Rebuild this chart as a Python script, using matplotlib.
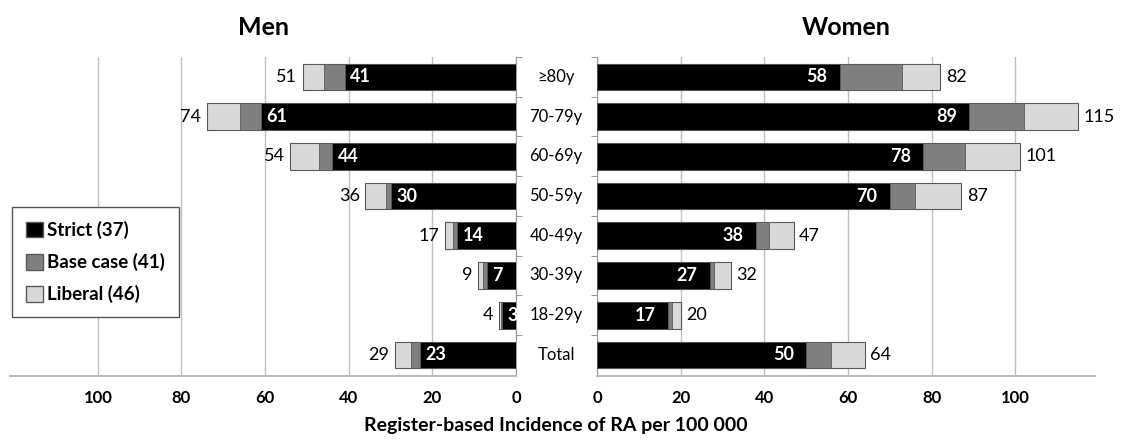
import numpy as np
import matplotlib.pyplot as plt
import matplotlib.transforms as mtransforms
from matplotlib.patches import Patch

plt.rcParams['font.family'] = ['Lato', 'DejaVu Sans']

groups = ['≥80y', '70-79y', '60-69y', '50-59y', '40-49y', '30-39y', '18-29y', 'Total']

# Men: strict / base case / liberal (cumulative values)
men_strict = [41, 61, 44, 30, 14, 7, 3.4, 23]
men_base = [46, 66, 47, 31, 15, 8, 3.7, 25]
men_liberal = [51, 74, 54, 36, 17, 9, 4.1, 29]

# Women
women_strict = [58, 89, 78, 70, 38, 27, 17, 50]
women_base = [73, 102, 88, 76, 41, 28, 18, 56]
women_liberal = [82, 115, 101, 87, 47, 32, 20, 64]

legend_labels = ['Strict (37)', 'Base case (41)', 'Liberal (46)']
xticks = [0, 20, 40, 60, 80, 100]

c_strict = '#000000'
c_base = '#7f7f7f'
c_lib = '#d9d9d9'
edge = '#5a5a5a'
grid_c = '#c0c0c0'

fig = plt.figure(figsize=(11.22, 4.46), dpi=100)
ax_m = fig.add_axes([10/1122, 70/446, 506/1122, 319/446])
ax_w = fig.add_axes([597/1122, 70/446, 498/1122, 319/446])

y = np.arange(len(groups))
h = 0.67
fs = 13


def draw(ax, strict, base, lib, mirror):
    strict = np.array(strict, float)
    base = np.array(base, float)
    lib = np.array(lib, float)
    ax.barh(y, lib, height=h, color=c_lib, edgecolor=edge, linewidth=0.8, zorder=3)
    ax.barh(y, base, height=h, color=c_base, edgecolor=edge, linewidth=0.6, zorder=3)
    ax.barh(y, strict, height=h, color=c_strict, edgecolor=edge, linewidth=0.6, zorder=3)
    for i in range(len(y)):
        s_lab = str(int(round(strict[i])))
        l_lab = str(int(round(lib[i])))
        if mirror:
            ax.annotate(s_lab, (strict[i], y[i]), xytext=(4, 0), textcoords='offset points',
                        ha='left', va='center', color='white', fontsize=fs, fontweight='bold', zorder=4)
            ax.annotate(l_lab, (lib[i], y[i]), xytext=(-4, 0), textcoords='offset points',
                        ha='right', va='center', color='black', fontsize=fs, zorder=4)
        else:
            ax.annotate(s_lab, (strict[i], y[i]), xytext=(-9, 0), textcoords='offset points',
                        ha='right', va='center', color='white', fontsize=fs, fontweight='bold', zorder=4)
            ax.annotate(l_lab, (lib[i], y[i]), xytext=(4, 0), textcoords='offset points',
                        ha='left', va='center', color='black', fontsize=fs, zorder=4)
    ax.set_ylim(len(groups) - 0.47, -0.5)
    ax.set_xticks(xticks)
    ax.set_xticklabels([str(t) for t in xticks], fontsize=12, fontweight='bold')
    ax.grid(axis='x', color=grid_c, linewidth=1, zorder=0)
    ax.set_yticks([])
    ax.set_yticks(np.arange(len(groups)) - 0.5, minor=True)
    ax.tick_params(axis='y', which='minor', length=4, color='#888888')
    ax.tick_params(axis='x', length=0, pad=10)
    for s in ['top', 'left', 'right']:
        ax.spines[s].set_visible(False)
    ax.spines['bottom'].set_color('#bbbbbb')
    ax.spines['bottom'].set_linewidth(1.5)


draw(ax_m, men_strict, men_base, men_liberal, True)
draw(ax_w, women_strict, women_base, women_liberal, False)

ax_m.set_xlim(121, 0)
ax_w.set_xlim(0, 119)
ax_m.spines['right'].set_visible(True)
ax_m.spines['right'].set_color('#999999')
ax_m.yaxis.tick_right()
ax_w.spines['left'].set_visible(True)
ax_w.spines['left'].set_color('#999999')

ax_m.set_title('Men', fontsize=18, fontweight='bold', pad=16)
ax_w.set_title('Women', fontsize=18, fontweight='bold', pad=16)

# category labels between the panels
trans = mtransforms.blended_transform_factory(fig.transFigure, ax_w.transData)
for i, g in enumerate(groups):
    fig.text(556/1122, i, g, transform=trans, ha='center', va='center', fontsize=12)

fig.text(556/1122, 20/446, 'Register-based Incidence of RA per 100 000',
         ha='center', va='center', fontsize=14, fontweight='bold')

handles = [Patch(facecolor=c_strict, edgecolor=edge),
           Patch(facecolor=c_base, edgecolor=edge),
           Patch(facecolor=c_lib, edgecolor=edge)]
leg = ax_m.legend(handles, legend_labels, loc='upper left', bbox_to_anchor=(0.004, 0.53),
                  borderaxespad=0, fancybox=False, edgecolor='#555555', framealpha=1,
                  handlelength=0.9, handleheight=0.9, handletextpad=0.2,
                  labelspacing=0.75, borderpad=0.75, prop={'size': 13.5, 'weight': 'bold'})
leg.get_frame().set_linewidth(1.0)
leg._legend_box.align = 'left'

fig.savefig('out.png', dpi=100)
